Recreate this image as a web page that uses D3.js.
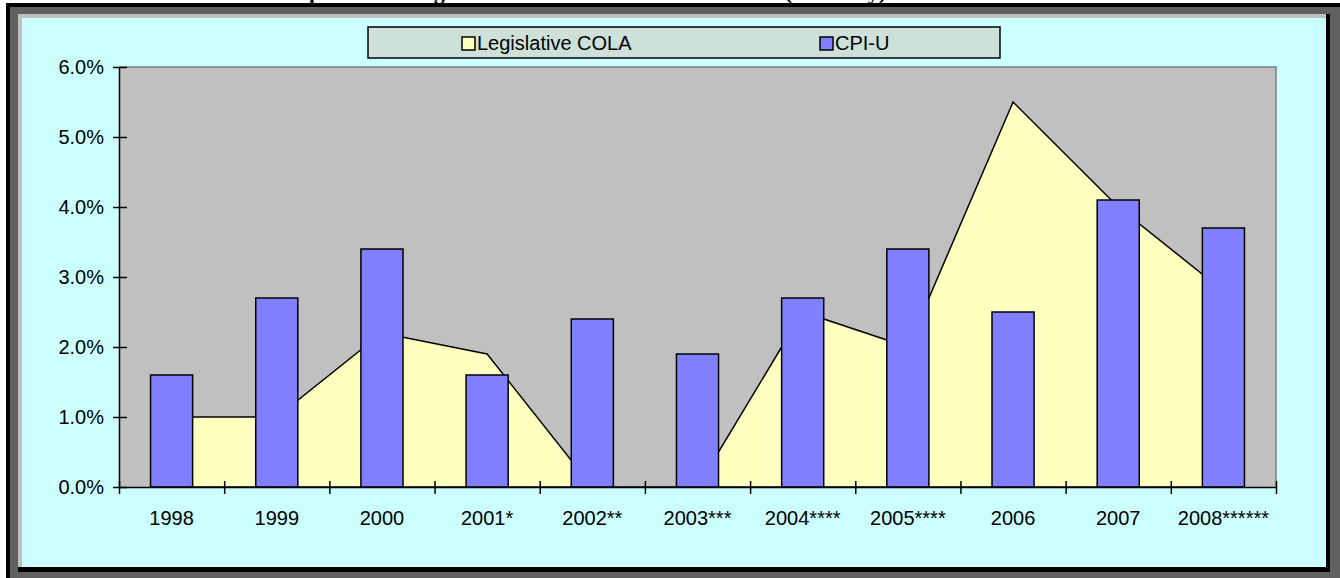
<!DOCTYPE html>
<html>
<head>
<meta charset="utf-8">
<script src="https://cdn.jsdelivr.net/npm/d3@7/dist/d3.min.js"></script>
<style>
  body { margin: 0; background: #fff; }
  svg { display: block; font-family: "Liberation Sans", Arial, sans-serif; }
</style>
</head>
<body>
<svg id="chart"></svg>
<script>
const categories = ["1998", "1999", "2000", "2001*", "2002**", "2003***", "2004****", "2005****", "2006", "2007", "2008******"];
const colaValues = [1.0, 1.0, 2.2, 1.9, 0.0, 0.0, 2.5, 2.0, 5.5, 4.0, 2.8];
const cpiValues = [1.6, 2.7, 3.4, 1.6, 2.4, 1.9, 2.7, 3.4, 2.5, 4.1, 3.7];
const yTicks = [0, 1, 2, 3, 4, 5, 6];
const seriesNames = ["Legislative COLA", "CPI-U"];

const width = 1340, height = 578;
const plot = { left: 119, right: 1276, top: 67, bottom: 487 };

const svg = d3.select('#chart')
  .attr('width', width)
  .attr('height', height);

// cut off title above the frame
svg.append('text')
  .attr('x', 575)
  .attr('y', -1.5)
  .attr('text-anchor', 'middle')
  .style('font-family', '"Liberation Serif", "Times New Roman", serif')
  .style('font-weight', 'bold')
  .style('font-size', '22px')
  .text('Comparison of Legislative COLA and CPI-U Increases (Annually)');

// frame: shadow, black edge, bevel, cyan chart area
svg.append('rect').attr('x', 6).attr('y', 3).attr('width', width - 6).attr('height', height - 3).attr('fill', '#606060');
svg.append('rect').attr('x', 6).attr('y', 3).attr('width', width - 6).attr('height', 4).attr('fill', '#000');
svg.append('rect').attr('x', 6).attr('y', 3).attr('width', 4).attr('height', height - 3).attr('fill', '#000');
svg.append('rect').attr('x', 18).attr('y', 14).attr('width', 1312).attr('height', 558).attr('fill', '#000');
svg.append('rect').attr('x', 18).attr('y', 14).attr('width', 1308).attr('height', 553).attr('fill', '#c0c0c0');
svg.append('rect').attr('x', 22).attr('y', 18).attr('width', 1304).attr('height', 549).attr('fill', '#ccffff');

const x = d3.scaleBand()
  .domain(categories)
  .range([plot.left, plot.right])
  .padding(0);

const xEdges = d3.scaleLinear()
  .domain([0, categories.length])
  .range([plot.left, plot.right]);

const y = d3.scaleLinear()
  .domain([0, 6])
  .range([plot.bottom, plot.top]);

const centre = c => x(c) + x.bandwidth() / 2;

// plot area
svg.append('rect')
  .attr('x', plot.left)
  .attr('y', plot.top)
  .attr('width', plot.right - plot.left)
  .attr('height', plot.bottom - plot.top)
  .attr('fill', '#c0c0c0');
svg.append('path')
  .attr('d', `M${plot.left},${plot.top}H${plot.right}V${plot.bottom}`)
  .attr('fill', 'none')
  .attr('stroke', '#808080')
  .attr('stroke-width', 1.5);

// Legislative COLA area (behind bars)
const cola = categories.map((c, i) => ({ cat: c, v: colaValues[i] }));
const area = d3.area()
  .x(d => centre(d.cat))
  .y0(y(0))
  .y1(d => y(d.v));

svg.append('path')
  .datum(cola)
  .attr('d', d => area(d) + 'Z')
  .attr('fill', '#ffffc0')
  .attr('stroke', '#000')
  .attr('stroke-width', 1.5)
  .attr('stroke-linejoin', 'miter');

// CPI-U bars
const cpi = categories.map((c, i) => ({ cat: c, v: cpiValues[i] }));
svg.append('g')
  .selectAll('rect')
  .data(cpi)
  .enter()
  .append('rect')
  .attr('x', d => x(d.cat) + x.bandwidth() * 0.3)
  .attr('width', x.bandwidth() * 0.4)
  .attr('y', d => y(d.v))
  .attr('height', d => y(0) - y(d.v))
  .attr('fill', '#8080ff')
  .attr('stroke', '#000')
  .attr('stroke-width', 1.5);

// y axis
const yAxis = svg.append('g')
  .attr('transform', `translate(${plot.left},0)`)
  .call(d3.axisLeft(y)
    .tickValues(yTicks)
    .tickFormat(d => d.toFixed(1) + '%')
    .tickSize(6)
    .tickSizeOuter(0)
    .tickPadding(9));
yAxis.selectAll('.tick line').attr('x1', 8).attr('stroke-width', 1.5);
yAxis.select('.domain').attr('stroke-width', 1.5);
yAxis.selectAll('text').style('font-size', '20px').attr('fill', '#000');

// x axis: boundary ticks
const xTickAxis = svg.append('g')
  .attr('transform', `translate(0,${plot.bottom})`)
  .call(d3.axisBottom(xEdges)
    .tickValues(d3.range(categories.length + 1))
    .tickFormat('')
    .tickSize(7)
    .tickSizeOuter(0));
xTickAxis.selectAll('.tick line').attr('y1', -6).attr('stroke-width', 1.5);
xTickAxis.select('.domain').attr('stroke-width', 1.5);

// x axis: category labels
const xLabels = svg.append('g')
  .attr('transform', `translate(0,${plot.bottom})`)
  .call(d3.axisBottom(x).tickSize(0).tickPadding(24));
xLabels.select('.domain').remove();
xLabels.selectAll('text').style('font-size', '20px').attr('fill', '#000');

// legend
const legend = svg.append('g').attr('class', 'legend');
legend.append('rect')
  .attr('x', 368)
  .attr('y', 27)
  .attr('width', 632)
  .attr('height', 31)
  .attr('fill', '#cde1d9')
  .attr('stroke', '#000')
  .attr('stroke-width', 1.5);

const legendItems = [
  { name: seriesNames[0], color: '#ffffc0', x: 462 },
  { name: seriesNames[1], color: '#8080ff', x: 820 }
];
const item = legend.selectAll('.item')
  .data(legendItems)
  .enter()
  .append('g')
  .attr('class', 'item')
  .attr('transform', d => `translate(${d.x},0)`);
item.append('rect')
  .attr('x', 0)
  .attr('y', 37)
  .attr('width', 13)
  .attr('height', 13)
  .attr('fill', d => d.color)
  .attr('stroke', '#000')
  .attr('stroke-width', 1.5);
item.append('text')
  .attr('x', 15)
  .attr('y', 50)
  .style('font-size', '20px')
  .text(d => d.name);
</script>
</body>
</html>
